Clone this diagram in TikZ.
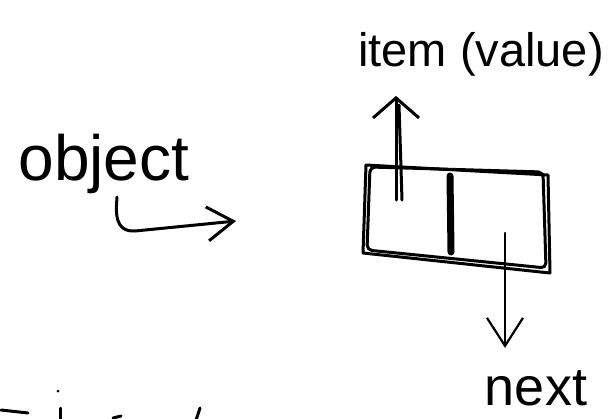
\documentclass[tikz,border=0pt]{standalone}
\usepackage{fontspec}
\setmainfont{Liberation Sans}
\usetikzlibrary{positioning,arrows.meta,calc}

\begin{document}
\begin{tikzpicture}[
    x=1pt, y=-1pt,
    pen/.style={line width=3pt, line cap=round, line join=round},
    hand/.style={inner sep=0pt, anchor=base},
    arr/.style={pen, -{Straight Barb[length=20pt, width=46pt]}},
    thin arr/.style={pen, line width=2.2pt, -{Straight Barb[length=28pt, width=36pt]}}
]
\useasboundingbox (0,0) rectangle (615,418);

% labels
\node[hand, font=\fontsize{64}{70}\selectfont] (obj) at (104,180) {object};
\node[hand, font=\fontsize{47}{54}\selectfont] (item) at (481,66) {item (value)};
\node[hand, font=\fontsize{54}{60}\selectfont] (next) at (536,405) {next};

% the cell: drawn twice, split by a heavy bar
\draw[pen] (366,165) -- (548,175) -- (550,273) -- (363,253) -- cycle;
\draw[pen, rounded corners=5pt] (370,167) -- (543,172) -- (546,268) -- (367,250) -- cycle;
\draw[line width=7pt, line cap=round] (450,176) -- (451,252);

\coordinate (itemfoot) at (396,200);
\coordinate (nextfoot) at (505,233);

% pointers out of the cell
\draw[arr, shorten >=20pt] (itemfoot) -- (itemfoot |- item.south);
\draw[pen] (itemfoot) ++(6,0) -- ++(-3,-95);
\draw[thin arr, shorten >=22pt] (nextfoot) -- (nextfoot |- next.north);

% hook arrow under object
\draw[pen, -{Straight Barb[length=26pt, width=34pt]}]
    (117,197) .. controls (116,212) and (114,232) .. (135,231) -- (236,221);

% cut-off strokes at the bottom edge
\draw[pen] (1,410) -- (28,413);
\fill (58,391) circle (1.5pt);
\draw[pen] (60,408) -- (60,420);
\draw[pen] (113,418) -- (121,416);
\draw[pen] (200,408) -- (196,420);

\end{tikzpicture}
\end{document}
